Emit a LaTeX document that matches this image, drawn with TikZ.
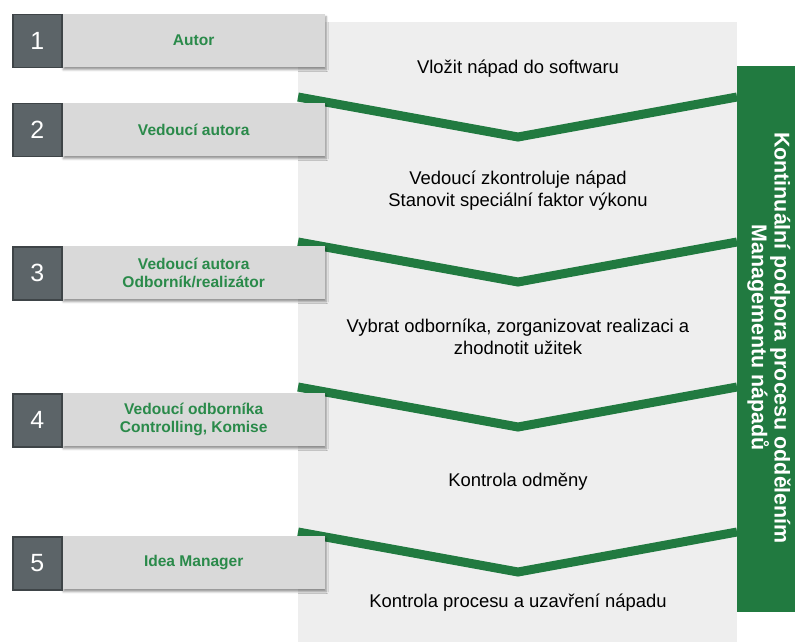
\documentclass[tikz,border=0pt]{standalone}
\usepackage{fontspec}
\setmainfont{Liberation Sans}
\usetikzlibrary{shadows.blur}
\definecolor{panelgray}{HTML}{EEEEEE}
\definecolor{boxgray}{HTML}{D9D9D9}
\definecolor{numgray}{HTML}{5C6468}
\definecolor{numedge}{HTML}{3E4447}
\definecolor{darkgreen}{HTML}{217A40}
\definecolor{labelgreen}{HTML}{2A8A4A}
\tikzset{
  rolebox/.style={fill=boxgray, minimum width=263bp, minimum height=53bp, anchor=north west,
    inner sep=0pt, font=\bfseries\fontsize{15.6}{18}\selectfont, text=labelgreen, align=center,
    blur shadow={shadow xshift=1bp, shadow yshift=-2.5bp, shadow blur steps=5, shadow opacity=40, shadow blur radius=2bp}},
  numbox/.style={fill=numgray, draw=numedge, line width=1.5bp, minimum width=49bp, minimum height=53bp,
    anchor=north west, inner sep=0pt, text=white, font=\fontsize{25}{29}\selectfont},
  steptext/.style={font=\fontsize{18.5}{22}\selectfont, align=center, text=black},
  chevron/.style={draw=darkgreen, line width=9bp, line join=miter},
}
\begin{document}
\begin{tikzpicture}[x=1bp, y=-1bp]
\useasboundingbox (0,0) rectangle (795,642);
% process panel and side bar
\fill[panelgray] (298,22) rectangle (737,642);
\node[fill=darkgreen, minimum width=58bp, minimum height=546bp, anchor=north west, inner sep=0pt] (bar) at (737,66) {};
\node[rotate=-90, text=white, font=\bfseries\fontsize{21.5}{23}\selectfont, align=center] (bartext) at (769,338)
  {Kontinuální podpora procesu oddělením\\Managementu nápadů};
% chevron separators
\foreach \y/\n in {97/a, 242/b, 387/c, 532/d} {
  \coordinate (l\n) at (298,\y);
  \coordinate (v\n) at (518,\y+40);
  \coordinate (r\n) at (737,\y);
  \draw[chevron] (l\n) -- (v\n) -- (r\n);
}
% role boxes
\foreach \y/\k/\t in {14/1/Autor, 103/2/Vedoucí autora, 246/3/{Vedoucí autora\\Odborník/realizátor},
                       393/4/{Vedoucí odborníka\\Controlling, Komise}, 536/5/Idea Manager} {
  \node[rolebox] (role\k) at (62,\y) {\t};
  \node[numbox] (num\k) at (12,\y) {\k};
}
% step descriptions
\node[steptext] (s1) at (518,69) {Vložit nápad do softwaru};
\node[steptext] (s2) at (518,191) {Vedoucí zkontroluje nápad\\Stanovit speciální faktor výkonu};
\node[steptext] (s3) at (518,337) {Vybrat odborníka, zorganizovat realizaci a\\zhodnotit užitek};
\node[steptext] (s4) at (518,482) {Kontrola odměny};
\node[steptext] (s5) at (518,603) {Kontrola procesu a uzavření nápadu};
\end{tikzpicture}
\end{document}
